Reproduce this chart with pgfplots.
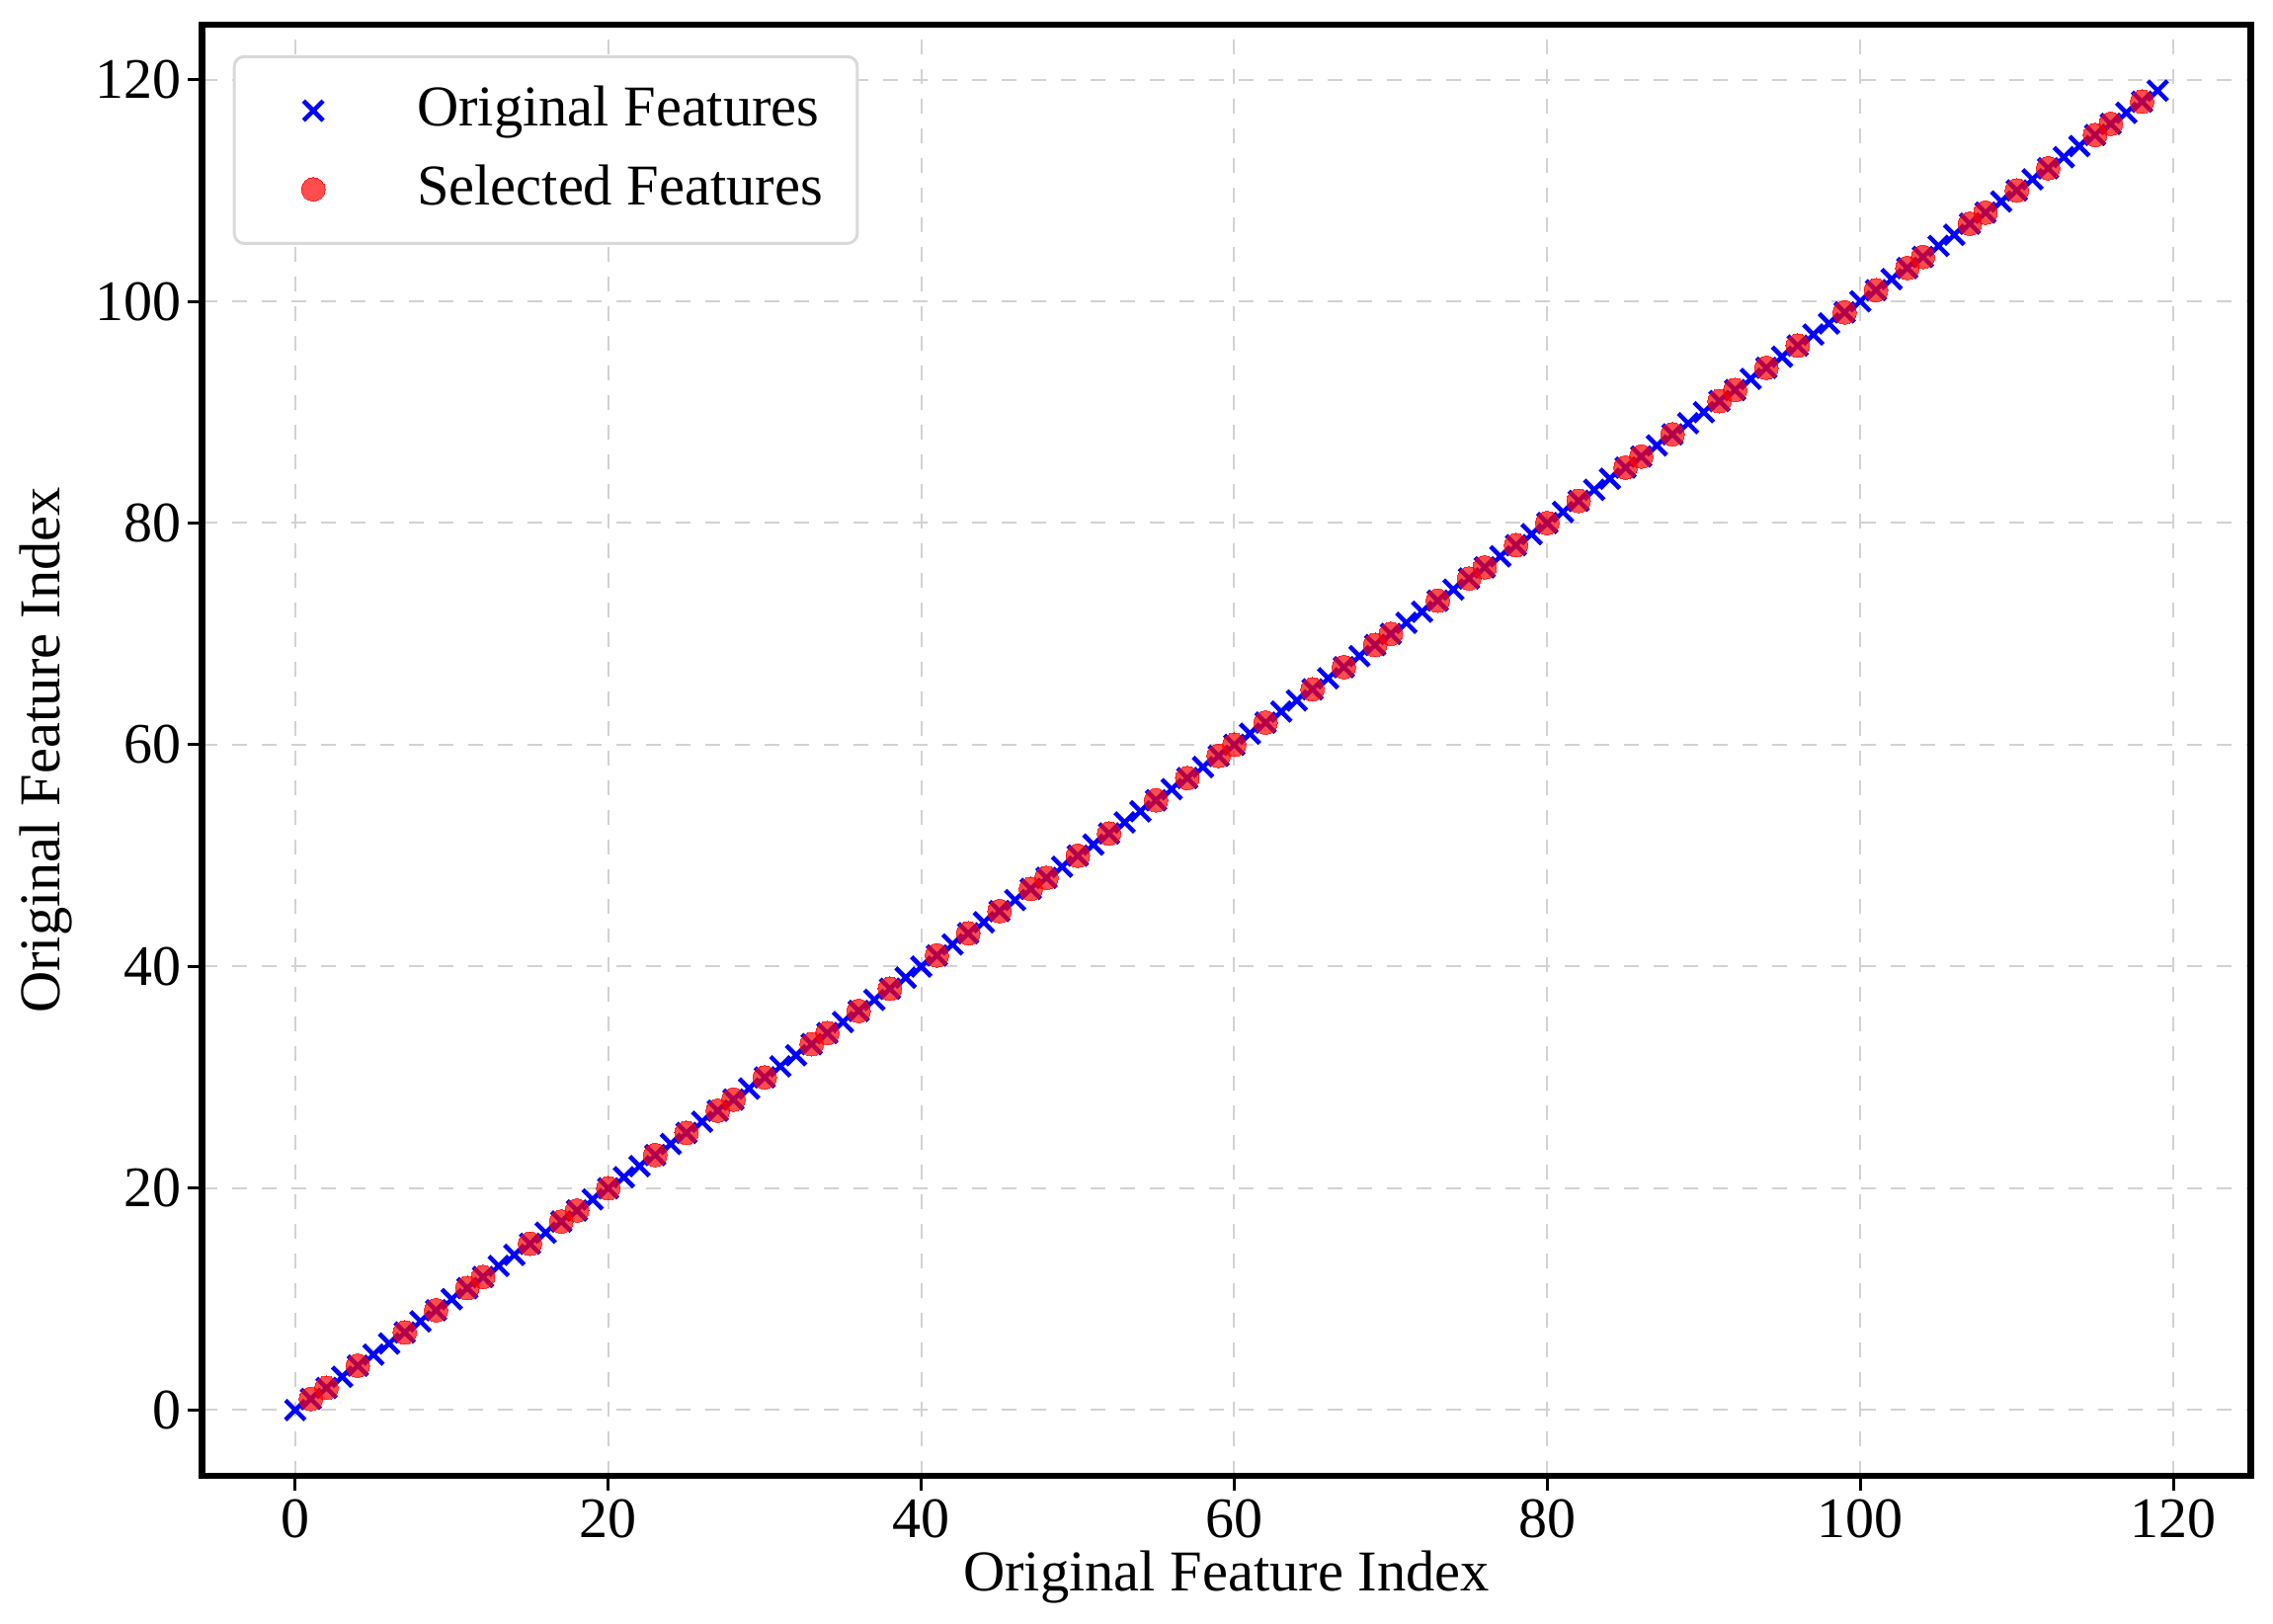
\documentclass[border=0pt]{standalone}
\usepackage{fontspec}
\setmainfont{Liberation Serif}
\usepackage{pgfplots}
\pgfplotsset{compat=1.18}

\begin{document}
\fontsize{12}{14}\selectfont
\begin{tikzpicture}
\begin{axis}[
    width=415pt, height=294pt,
    scale only axis,
    xmin=-5.95, xmax=124.95,
    ymin=-5.95, ymax=124.95,
    xtick={0,20,...,120}, ytick={0,20,...,120},
    /pgf/number format/assume math mode=true,
    tick label style={font=\fontsize{11.6}{13}\selectfont},
    xticklabel style={yshift=2.5pt},
    yticklabel style={xshift=3pt},
    label style={font=\fontsize{11.7}{13}\selectfont},
    xlabel={Original Feature Index},
    ylabel={Original Feature Index},
    xlabel style={yshift=5.5pt},
    ylabel style={yshift=-3.5pt},
    axis line style={line width=1.3pt},
    tick align=outside, tick pos=lower,
    major tick length=3pt,
    tick style={black, line width=0.6pt},
    grid=major,
    grid style={gray!35, dashed, line width=0.4pt},
    legend style={at={(0.015,0.979)}, anchor=north west,
        draw=gray!30, rounded corners=2pt, line width=0.6pt,
        font=\fontsize{11.7}{13}\selectfont,
        row sep=2pt, inner xsep=5pt, inner ysep=4pt},
    legend cell align=left,
    legend image code/.code={\draw[#1, only marks] plot coordinates {(11pt,0pt)}; \path[draw=none] (0pt,0pt) (30pt,0pt);},
]
\addplot[only marks, mark=x, blue, mark size=2.8pt, mark options={line width=0.9pt}] coordinates {
(0,0) (1,1) (2,2) (3,3) (4,4) (5,5) (6,6) (7,7) (8,8) (9,9)
(10,10) (11,11) (12,12) (13,13) (14,14) (15,15) (16,16) (17,17) (18,18) (19,19)
(20,20) (21,21) (22,22) (23,23) (24,24) (25,25) (26,26) (27,27) (28,28) (29,29)
(30,30) (31,31) (32,32) (33,33) (34,34) (35,35) (36,36) (37,37) (38,38) (39,39)
(40,40) (41,41) (42,42) (43,43) (44,44) (45,45) (46,46) (47,47) (48,48) (49,49)
(50,50) (51,51) (52,52) (53,53) (54,54) (55,55) (56,56) (57,57) (58,58) (59,59)
(60,60) (61,61) (62,62) (63,63) (64,64) (65,65) (66,66) (67,67) (68,68) (69,69)
(70,70) (71,71) (72,72) (73,73) (74,74) (75,75) (76,76) (77,77) (78,78) (79,79)
(80,80) (81,81) (82,82) (83,83) (84,84) (85,85) (86,86) (87,87) (88,88) (89,89)
(90,90) (91,91) (92,92) (93,93) (94,94) (95,95) (96,96) (97,97) (98,98) (99,99)
(100,100) (101,101) (102,102) (103,103) (104,104) (105,105) (106,106) (107,107) (108,108) (109,109)
(110,110) (111,111) (112,112) (113,113) (114,114) (115,115) (116,116) (117,117) (118,118) (119,119)
};
\addlegendentry{Original Features}
\addplot[only marks, mark=*, red, mark size=2.4pt, mark options={opacity=0.7, line width=0pt}] coordinates {
(1,1) (2,2) (4,4) (7,7) (9,9) (11,11) (12,12) (15,15) (17,17) (18,18)
(20,20) (23,23) (25,25) (27,27) (28,28) (30,30) (33,33) (34,34) (36,36) (38,38)
(41,41) (43,43) (45,45) (47,47) (48,48) (50,50) (52,52) (55,55) (57,57) (59,59)
(60,60) (62,62) (65,65) (67,67) (69,69) (70,70) (73,73) (75,75) (76,76) (78,78)
(80,80) (82,82) (85,85) (86,86) (88,88) (91,91) (92,92) (94,94) (96,96) (99,99)
(101,101) (103,103) (104,104) (107,107) (108,108) (110,110) (112,112) (115,115) (116,116) (118,118)
};
\addlegendentry{Selected Features}
\end{axis}
\path (current axis.north east) ++(4.5pt,5pt);
\end{tikzpicture}
\end{document}
